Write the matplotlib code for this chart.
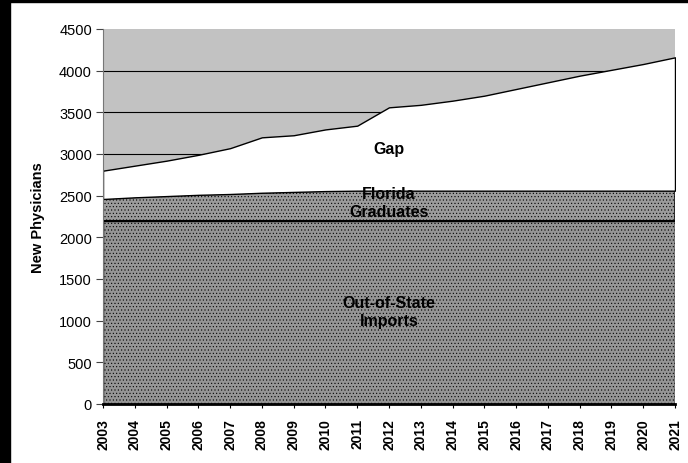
import matplotlib
matplotlib.use("Agg")
import matplotlib.pyplot as plt
from matplotlib.patches import Rectangle

years = list(range(2003, 2022))
out_of_state = [2200] * 19
florida_grads = [260, 280, 295, 310, 320, 335, 345, 355, 360, 360,
                 360, 360, 360, 360, 360, 360, 360, 360, 360]
gap = [340, 380, 425, 480, 550, 665, 680, 740, 780, 1000,
       1030, 1080, 1140, 1220, 1300, 1380, 1450, 1520, 1600]
y_ticks = [0, 500, 1000, 1500, 2000, 2500, 3000, 3500, 4000, 4500]

plt.rcParams['font.family'] = ['Liberation Sans', 'DejaVu Sans']

fig = plt.figure(figsize=(6.88, 4.64), dpi=100)
ax = fig.add_axes([103/688, 1 - 405/464, (675 - 103)/688, (405 - 30)/464])
ax.set_facecolor('#c2c2c2')

# gridlines (visible only above the stacked areas)
for v in y_ticks[1:-1]:
    ax.axhline(v, color='black', lw=0.8, zorder=1)

polys = ax.stackplot(years, out_of_state, florida_grads, gap,
                     colors=['#959595', '#9c9c9c', '#ffffff'],
                     edgecolor='black', linewidth=1.0, zorder=2)
for p, h in zip(polys, ['.....', '.....', None]):
    if h:
        p.set_hatch(h)
        p.set_hatch_linewidth(0.4)

ax.set_xlim(2003, 2021)
ax.set_ylim(0, 4500)
ax.set_yticks(y_ticks)
ax.set_yticklabels([str(v) for v in y_ticks], fontsize=10.5)
ax.set_xticks(years)
ax.set_xticklabels([str(y) for y in years], rotation=90, fontsize=10,
                   fontweight='bold')
ax.tick_params(axis='y', length=5, width=0.8, color='#444444', pad=3)
ax.tick_params(axis='x', length=3, width=0.8, color='black', pad=7)

for s in ['top', 'right']:
    ax.spines[s].set_visible(False)
ax.spines['left'].set_color('#777777')
ax.spines['left'].set_linewidth(0.8)
ax.spines['bottom'].set_color('black')
ax.spines['bottom'].set_linewidth(2)
ax.spines['bottom'].set_zorder(5)

ax.set_ylabel('New Physicians', fontsize=10.5, fontweight='bold', labelpad=10)

ax.text(2012, 3060, 'Gap', ha='center', va='center', fontsize=11.5,
        fontweight='bold', zorder=6)
ax.text(2012, 2420, 'Florida\nGraduates', ha='center', va='center',
        fontsize=11.5, fontweight='bold', linespacing=1.2, zorder=6)
ax.text(2012, 1110, 'Out-of-State\nImports', ha='center', va='center',
        fontsize=11.5, fontweight='bold', linespacing=1.25, zorder=6)

# dark scan frame on left and top edges
fig.patches.append(Rectangle((0, 0), 10/688, 1, transform=fig.transFigure,
                             color='black', zorder=10))
fig.patches.append(Rectangle((0, 1 - 3/464), 1, 3/464, transform=fig.transFigure,
                             color='black', zorder=10))

fig.savefig('out.png', dpi=100)
